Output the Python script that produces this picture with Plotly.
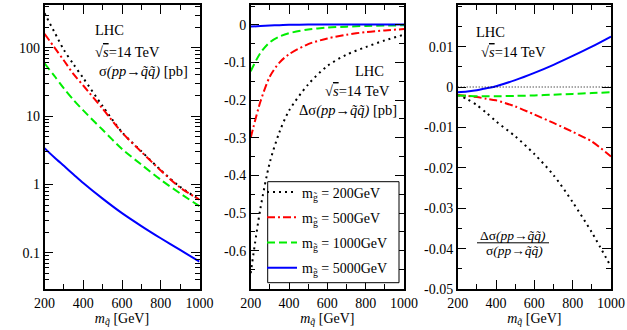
import plotly.graph_objects as go

# ---------------- data ----------------
m_sq = [200, 250, 300, 350, 400, 500, 600, 700, 800, 900, 1000]
labels = ["m<sub>g̃</sub> = 200GeV", "m<sub>g̃</sub> = 500GeV",
          "m<sub>g̃</sub> = 1000GeV", "m<sub>g̃</sub> = 5000GeV"]

# sigma(pp -> sq sq) [pb]
sig_200 = [320, 172, 93, 57, 36, 14.0, 5.8, 3.05, 1.62, 0.92, 0.6]
sig_500 = [160, 102, 65, 41, 28, 12.8, 5.75, 3.0, 1.6, 0.9, 0.6]
sig_1000 = [59, 39, 25.4, 17.2, 12.1, 6.3, 3.3, 1.95, 1.17, 0.74, 0.48]
sig_5000 = [3.4, 2.5, 1.87, 1.4, 1.05, 0.62, 0.38, 0.246, 0.163, 0.110, 0.074]

# Delta sigma [pb]
dsig_200 = [-0.66, -0.49, -0.365, -0.285, -0.228, -0.158, -0.109, -0.079, -0.059, -0.041, -0.026]
dsig_500 = [-0.30, -0.205, -0.137, -0.10, -0.078, -0.051, -0.036, -0.026, -0.019, -0.0145, -0.011]
dsig_1000 = [-0.123, -0.075, -0.046, -0.031, -0.022, -0.012, -0.0072, -0.0045, -0.0025, -0.0015, -0.001]
dsig_5000 = [-0.0044, -0.0028, -0.0015, -0.0007, 0.0003, 0.0011, 0.0013, 0.0014, 0.0013, 0.0011, 0.0009]

# Delta sigma / sigma
rel_200 = [-0.002, -0.003, -0.0045, -0.0064, -0.0085, -0.0122, -0.0166, -0.0218, -0.0285, -0.036, -0.0445]
rel_500 = [-0.002, -0.0022, -0.0025, -0.0029, -0.0033, -0.0048, -0.0068, -0.0089, -0.0111, -0.0135, -0.0172]
rel_1000 = [-0.0021, -0.0022, -0.0023, -0.0023, -0.0023, -0.0022, -0.0021, -0.0019, -0.0017, -0.0015, -0.0013]
rel_5000 = [-0.0013, -0.0011, -0.0008, -0.0003, 0.0002, 0.0017, 0.0035, 0.0055, 0.0077, 0.0100, 0.0125]

x_ticks = [200, 400, 600, 800, 1000]
x_ticktext = ["200", "400", "600", "800", "1000"]
y1_ticks = [0.1, 1, 10, 100]
y1_ticktext = ["0.1", "1", "10", "100"]
y2_ticks = [0, -0.1, -0.2, -0.3, -0.4, -0.5, -0.6]
y2_ticktext = ["0", "-0.1", "-0.2", "-0.3", "-0.4", "-0.5", "-0.6"]
y3_ticks = [0.01, 0, -0.01, -0.02, -0.03, -0.04, -0.05]
y3_ticktext = ["0.01", "0", "-0.01", "-0.02", "-0.03", "-0.04", "-0.05"]

colors = ["black", "#ff0000", "#00ee00", "#0000ff"]
dashes = ["2px,4px", "8px,3px,2px,3px", "8px,4px", "solid"]

FONT = "Liberation Serif"
W, H = 627, 330

fig = go.Figure()

panels = [
    ("x", "y", [sig_200, sig_500, sig_1000, sig_5000], False),
    ("x2", "y2", [dsig_200, dsig_500, dsig_1000, dsig_5000], True),
    ("x3", "y3", [rel_200, rel_500, rel_1000, rel_5000], False),
]
for xa, ya, series, showleg in panels:
    for i, ys in enumerate(series):
        fig.add_trace(go.Scatter(
            x=m_sq, y=ys, mode="lines", xaxis=xa, yaxis=ya,
            name=labels[i], showlegend=showleg, legendgroup=f"g{i}",
            line=dict(color=colors[i], width=2, dash=dashes[i], shape="spline", smoothing=0.8),
        ))


def px_x(p):
    return p / W


def px_y(p):
    return 1 - p / H


# dotted zero reference line in right panel
fig.add_shape(type="line", xref="x3 domain", x0=0, x1=1, yref="y3", y0=0, y1=0,
              line=dict(color="black", width=1, dash="1px,2px"))

# legend frame (white box with black border)
fig.add_shape(type="rect", xref="paper", yref="paper",
              x0=px_x(267.7), x1=px_x(399), y0=px_y(282.7), y1=px_y(181.7),
              fillcolor="white", line=dict(color="black", width=1), layer="above")

ydom = [px_y(289), px_y(5)]
xdoms = [[px_x(44.5), px_x(199.5)], [px_x(250.7), px_x(404)], [px_x(457.7), px_x(611)]]

tickfont = dict(family=FONT, size=14, color="black")
common = dict(showline=True, linecolor="black", linewidth=1.5, mirror="allticks",
              ticks="inside", ticklen=9, tickwidth=1.2, tickcolor="black",
              showgrid=False, zeroline=False, tickfont=tickfont, automargin=False)
minor_common = dict(ticks="inside", ticklen=5, tickwidth=1, tickcolor="black", showgrid=False)

xtitle = "<i>m</i><sub><i>q̃</i></sub> [GeV]"
layout = dict(
    width=W, height=H, margin=dict(l=0, r=0, t=0, b=0, autoexpand=False),
    paper_bgcolor="white", plot_bgcolor="white",
    font=dict(family=FONT, size=14, color="black"),
)
for k, xa in enumerate(["xaxis", "xaxis2", "xaxis3"]):
    anchor_y = ["y", "y2", "y3"][k]
    layout[xa] = dict(common, domain=xdoms[k], anchor=anchor_y, range=[200, 1000],
                      tickmode="array", tickvals=x_ticks, ticktext=x_ticktext,
                      minor=dict(minor_common, dtick=100, tick0=0),
                      title=dict(text=xtitle, font=dict(family=FONT, size=14), standoff=1))

minor_log = []
for dec in [0.01, 0.1, 1, 10, 100]:
    for d in range(2, 10):
        minor_log.append(dec * d)

layout["yaxis"] = dict(common, domain=ydom, anchor="x", type="log", range=[-1.53, 2.625],
                       tickmode="array", tickvals=y1_ticks, ticktext=y1_ticktext,
                       minor=dict(minor_common, tickmode="array", tickvals=minor_log))
layout["yaxis2"] = dict(common, domain=ydom, anchor="x2", range=[-0.702, 0.053],
                        tickmode="array", tickvals=y2_ticks, ticktext=y2_ticktext,
                        minor=dict(minor_common, dtick=0.05, tick0=0))
layout["yaxis3"] = dict(common, domain=ydom, anchor="x3", range=[-0.05, 0.0203],
                        tickmode="array", tickvals=y3_ticks, ticktext=y3_ticktext,
                        minor=dict(minor_common, dtick=0.005, tick0=0))

layout["legend"] = dict(x=px_x(262), y=px_y(176.5), xanchor="left", yanchor="top",
                        borderwidth=0, bgcolor="rgba(0,0,0,0)",
                        font=dict(family=FONT, size=14, color="black"),
                        tracegroupgap=4, itemwidth=30)
fig.update_layout(**layout)

afont = dict(family=FONT, size=14.5, color="black")
sqrt_s = "√<span style='text-decoration:overline'><i>s</i></span>=14 TeV"
texts = [
    ("LHC", 92.7, 30), (sqrt_s, 93, 51.7), ("σ<i>(pp→q̃q̃)</i> [pb]", 97, 71.7),
    ("LHC", 353, 70.7), (sqrt_s, 323, 90.7), ("Δσ<i>(pp→q̃q̃)</i> [pb]", 297, 110.7),
    ("LHC", 473.7, 31.7), (sqrt_s, 478.7, 51.7),
]
for t, xp, yp in texts:
    fig.add_annotation(text=t, x=px_x(xp), y=px_y(yp), xref="paper", yref="paper",
                       xanchor="left", yanchor="middle", showarrow=False, font=afont)

ffont = dict(family=FONT, size=13.5, color="black")
fig.add_annotation(text="Δσ<i>(pp→q̃q̃)</i>", x=px_x(513), y=px_y(235.8), xref="paper", yref="paper",
                   xanchor="center", yanchor="middle", showarrow=False, font=ffont, borderpad=0)
fig.add_annotation(text="σ<i>(pp→q̃q̃)</i>", x=px_x(514), y=px_y(250.8), xref="paper", yref="paper",
                   xanchor="center", yanchor="middle", showarrow=False, font=ffont, borderpad=0)
fig.add_shape(type="line", xref="paper", yref="paper", x0=px_x(477), x1=px_x(549),
              y0=px_y(242.8), y1=px_y(242.8), line=dict(color="black", width=1))

fig.write_html("out.html", config={"displayModeBar": False},
               post_script="document.body.style.margin='0px';")
